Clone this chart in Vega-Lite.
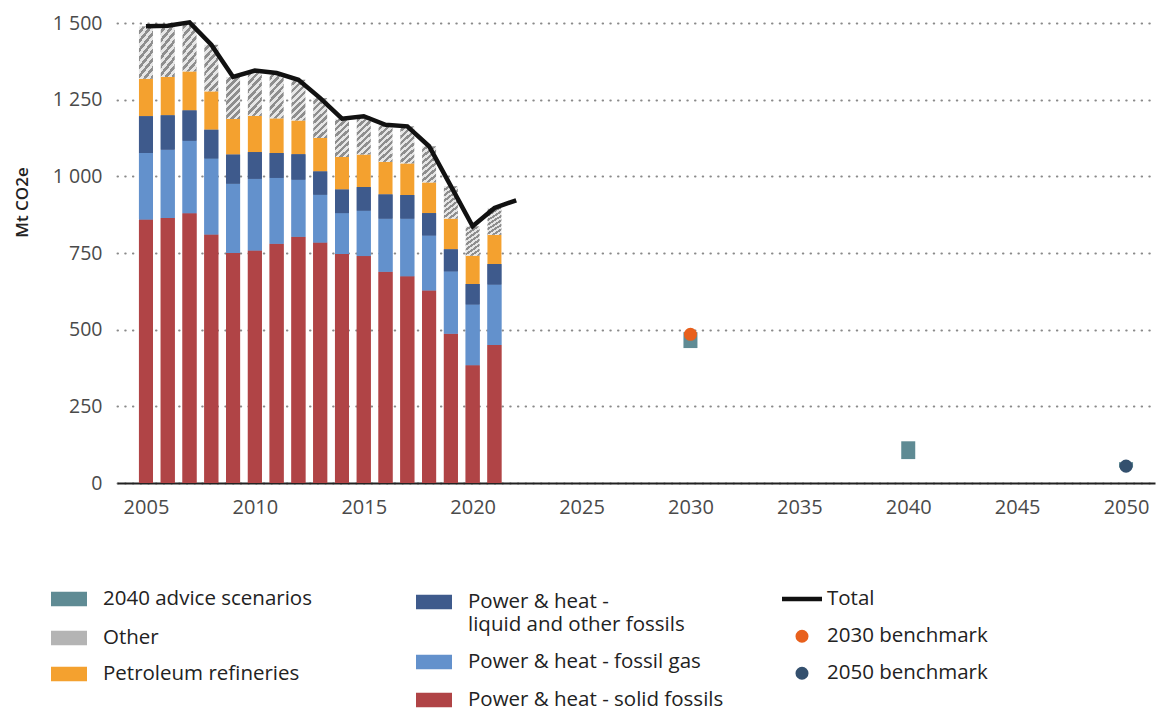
{
  "$schema": "https://vega.github.io/schema/vega-lite/v6.json",
  "width": 1038,
  "height": 460,
  "autosize": {"type": "none"},
  "padding": {"left": 117, "top": 23, "right": 3, "bottom": 228},
  "background": "white",
  "config": {
    "font": "Open Sans",
    "view": {"stroke": null},
    "axisY": {
      "labelExpr": "replace(format(datum.value, ','), ',', ' ')",
      "grid": true,
      "gridDash": [0.5, 7.2],
      "gridCap": "round",
      "gridWidth": 2,
      "gridColor": "#8a8a8a",
      "domain": false,
      "ticks": false,
      "labelPadding": 15,
      "labelFontSize": 19.5,
      "labelColor": "#4a4a4a",
      "titleFontSize": 17,
      "titleFontWeight": 600,
      "titleColor": "#222222",
      "titleX": -95,
      "titleY": 179,
      "titleAngle": -90,
      "titleAlign": "center",
      "titleBaseline": "middle"
    },
    "legend": {
      "orient": "none", "padding": 0, "title": null,
      "labelFontSize": 20.5, "labelColor": "#222222", "labelFont": "Open Sans", "labelLimit": 400
    }
  },
  "resolve": {"scale": {"fill": "independent"}, "legend": {"fill": "independent"}},
  "datasets": {
    "emissions": [
      {"year": 2005, "Power & heat - solid fossils": 859, "Power & heat - fossil gas": 217, "Power & heat - liquid and other fossils": 120, "Petroleum refineries": 122, "Other": 171},
      {"year": 2006, "Power & heat - solid fossils": 864, "Power & heat - fossil gas": 223, "Power & heat - liquid and other fossils": 112, "Petroleum refineries": 125, "Other": 167},
      {"year": 2007, "Power & heat - solid fossils": 880, "Power & heat - fossil gas": 236, "Power & heat - liquid and other fossils": 99, "Petroleum refineries": 127, "Other": 160},
      {"year": 2008, "Power & heat - solid fossils": 810, "Power & heat - fossil gas": 248, "Power & heat - liquid and other fossils": 94, "Petroleum refineries": 125, "Other": 152},
      {"year": 2009, "Power & heat - solid fossils": 750, "Power & heat - fossil gas": 226, "Power & heat - liquid and other fossils": 95, "Petroleum refineries": 116, "Other": 137},
      {"year": 2010, "Power & heat - solid fossils": 758, "Power & heat - fossil gas": 234, "Power & heat - liquid and other fossils": 87, "Petroleum refineries": 118, "Other": 148},
      {"year": 2011, "Power & heat - solid fossils": 780, "Power & heat - fossil gas": 215, "Power & heat - liquid and other fossils": 81, "Petroleum refineries": 113, "Other": 148},
      {"year": 2012, "Power & heat - solid fossils": 803, "Power & heat - fossil gas": 186, "Power & heat - liquid and other fossils": 83, "Petroleum refineries": 110, "Other": 133},
      {"year": 2013, "Power & heat - solid fossils": 784, "Power & heat - fossil gas": 156, "Power & heat - liquid and other fossils": 76, "Petroleum refineries": 109, "Other": 130},
      {"year": 2014, "Power & heat - solid fossils": 747, "Power & heat - fossil gas": 133, "Power & heat - liquid and other fossils": 77, "Petroleum refineries": 106, "Other": 125},
      {"year": 2015, "Power & heat - solid fossils": 740, "Power & heat - fossil gas": 148, "Power & heat - liquid and other fossils": 77, "Petroleum refineries": 106, "Other": 125},
      {"year": 2016, "Power & heat - solid fossils": 689, "Power & heat - fossil gas": 173, "Power & heat - liquid and other fossils": 79, "Petroleum refineries": 106, "Other": 121},
      {"year": 2017, "Power & heat - solid fossils": 674, "Power & heat - fossil gas": 188, "Power & heat - liquid and other fossils": 77, "Petroleum refineries": 103, "Other": 121},
      {"year": 2018, "Power & heat - solid fossils": 628, "Power & heat - fossil gas": 179, "Power & heat - liquid and other fossils": 73, "Petroleum refineries": 100, "Other": 118},
      {"year": 2019, "Power & heat - solid fossils": 487, "Power & heat - fossil gas": 203, "Power & heat - liquid and other fossils": 72, "Petroleum refineries": 100, "Other": 106},
      {"year": 2020, "Power & heat - solid fossils": 384, "Power & heat - fossil gas": 198, "Power & heat - liquid and other fossils": 67, "Petroleum refineries": 92, "Other": 96},
      {"year": 2021, "Power & heat - solid fossils": 450, "Power & heat - fossil gas": 197, "Power & heat - liquid and other fossils": 67, "Petroleum refineries": 95, "Other": 88}
    ],
    "stackorder": [
      {"series": "Power & heat - solid fossils", "rank": 1},
      {"series": "Power & heat - fossil gas", "rank": 2},
      {"series": "Power & heat - liquid and other fossils", "rank": 3},
      {"series": "Petroleum refineries", "rank": 4},
      {"series": "Other", "rank": 5}
    ],
    "total": [
      {"year": 2005, "total": 1489}, {"year": 2006, "total": 1491}, {"year": 2007, "total": 1502},
      {"year": 2008, "total": 1429}, {"year": 2009, "total": 1324}, {"year": 2010, "total": 1345},
      {"year": 2011, "total": 1337}, {"year": 2012, "total": 1315}, {"year": 2013, "total": 1255},
      {"year": 2014, "total": 1188}, {"year": 2015, "total": 1196}, {"year": 2016, "total": 1168},
      {"year": 2017, "total": 1163}, {"year": 2018, "total": 1098}, {"year": 2019, "total": 968},
      {"year": 2020, "total": 837}, {"year": 2021, "total": 897}, {"year": 2022, "total": 922}
    ],
    "scenarios": [
      {"year": 2030, "low": 440, "high": 492, "series": "2040 advice scenarios"},
      {"year": 2040, "low": 78, "high": 136, "series": "2040 advice scenarios"},
      {"year": 2050, "low": 50, "high": 68, "series": "2040 advice scenarios"}
    ],
    "benchmarks": [
      {"year": 2030, "value": 485, "series": "2030 benchmark"},
      {"year": 2050, "value": 55, "series": "2050 benchmark"}
    ]
  },
  "encoding": {
    "x": {
      "field": "year",
      "type": "quantitative",
      "scale": {"domain": [2003.9, 2051.1], "nice": false, "zero": false},
      "axis": {
        "values": [2005, 2010, 2015, 2020, 2025, 2030, 2035, 2040, 2045, 2050],
        "format": "d",
        "grid": false,
        "ticks": false,
        "domainColor": "#222222",
        "domainWidth": 2,
        "labelPadding": 14,
        "labelFontSize": 20,
        "labelColor": "#4a4a4a",
        "labelFlush": false,
        "title": null
      }
    }
  },
  "layer": [
    {
      "data": {"name": "emissions"},
      "transform": [
        {"fold": ["Power & heat - solid fossils", "Power & heat - fossil gas", "Power & heat - liquid and other fossils", "Petroleum refineries", "Other"], "as": ["series", "value"]},
        {"lookup": "series", "from": {"data": {"name": "stackorder"}, "key": "series", "fields": ["rank"]}}
      ],
      "mark": {"type": "bar", "width": 14},
      "encoding": {
        "y": {
          "field": "value",
          "type": "quantitative",
          "stack": "zero",
          "scale": {"domain": [0, 1500], "nice": false},
          "title": "Mt CO2e",
          "axis": {"values": [0, 250, 500, 750, 1000, 1250, 1500]}
        },
        "order": {"field": "rank", "type": "quantitative", "sort": "ascending"},
        "fill": {
          "field": "series",
          "type": "nominal",
          "condition": {
            "test": "datum.series === 'Other'",
            "value": {
              "gradient": "linear", "x1": 0, "y1": 0, "x2": 0.4, "y2": 1.2,
              "stops": [
                {"offset": 0, "color": "#e6e6e6"}, {"offset": 0.0625, "color": "#e6e6e6"}, {"offset": 0.0625, "color": "#8e8e8e"}, {"offset": 0.125, "color": "#8e8e8e"},
                {"offset": 0.125, "color": "#e6e6e6"}, {"offset": 0.1875, "color": "#e6e6e6"}, {"offset": 0.1875, "color": "#8e8e8e"}, {"offset": 0.25, "color": "#8e8e8e"},
                {"offset": 0.25, "color": "#e6e6e6"}, {"offset": 0.3125, "color": "#e6e6e6"}, {"offset": 0.3125, "color": "#8e8e8e"}, {"offset": 0.375, "color": "#8e8e8e"},
                {"offset": 0.375, "color": "#e6e6e6"}, {"offset": 0.4375, "color": "#e6e6e6"}, {"offset": 0.4375, "color": "#8e8e8e"}, {"offset": 0.5, "color": "#8e8e8e"},
                {"offset": 0.5, "color": "#e6e6e6"}, {"offset": 0.5625, "color": "#e6e6e6"}, {"offset": 0.5625, "color": "#8e8e8e"}, {"offset": 0.625, "color": "#8e8e8e"},
                {"offset": 0.625, "color": "#e6e6e6"}, {"offset": 0.6875, "color": "#e6e6e6"}, {"offset": 0.6875, "color": "#8e8e8e"}, {"offset": 0.75, "color": "#8e8e8e"},
                {"offset": 0.75, "color": "#e6e6e6"}, {"offset": 0.8125, "color": "#e6e6e6"}, {"offset": 0.8125, "color": "#8e8e8e"}, {"offset": 0.875, "color": "#8e8e8e"},
                {"offset": 0.875, "color": "#e6e6e6"}, {"offset": 0.9375, "color": "#e6e6e6"}, {"offset": 0.9375, "color": "#8e8e8e"}, {"offset": 1, "color": "#8e8e8e"}
              ]
            }
          },
          "scale": {
            "domain": ["Other", "Petroleum refineries", "Power & heat - liquid and other fossils", "Power & heat - fossil gas", "Power & heat - solid fossils"],
            "range": ["#b4b4b4", "#f4a12f", "#3e5a8c", "#6391cc", "#b04446"]
          },
          "legend": {
            "legendX": -66, "legendY": 597,
            "values": ["Other", "Petroleum refineries"],
            "symbolType": "M-1,-0.4H1V0.4H-1Z", "symbolSize": 1296, "symbolStrokeWidth": 0,
            "labelOffset": 16, "rowPadding": 7
          }
        }
      }
    },
    {
      "data": {"name": "emissions"},
      "transform": [
        {"fold": ["Power & heat - solid fossils", "Power & heat - fossil gas", "Power & heat - liquid and other fossils", "Petroleum refineries", "Other"], "as": ["series", "value"]},
        {"lookup": "series", "from": {"data": {"name": "stackorder"}, "key": "series", "fields": ["rank"]}},
        {"filter": "datum.rank <= 3"}
      ],
      "mark": {"type": "bar", "width": 14},
      "encoding": {
        "y": {
          "field": "value",
          "type": "quantitative",
          "stack": "zero",
          "title": "Mt CO2e",
          "axis": {"values": [0, 250, 500, 750, 1000, 1250, 1500]}
        },
        "order": {"field": "rank", "type": "quantitative", "sort": "ascending"},
        "fill": {
          "field": "series",
          "type": "nominal",
          "scale": {
            "domain": ["Power & heat - liquid and other fossils", "Power & heat - fossil gas", "Power & heat - solid fossils"],
            "range": ["#3e5a8c", "#6391cc", "#b04446"]
          },
          "legend": {
            "legendX": 299, "legendY": 561,
            "labelExpr": "datum.label === 'Power & heat - liquid and other fossils' ? ['Power & heat -', 'liquid and other fossils'] : datum.label",
            "symbolType": "M-1,-0.4H1V0.4H-1Z", "symbolSize": 1296, "symbolStrokeWidth": 0,
            "labelOffset": 16, "rowPadding": 9
          }
        }
      }
    },
    {
      "data": {"name": "scenarios"},
      "mark": {"type": "bar", "width": 14},
      "encoding": {
        "y": {"field": "low", "type": "quantitative", "title": "Mt CO2e", "axis": {"values": [0, 250, 500, 750, 1000, 1250, 1500]}},
        "y2": {"field": "high"},
        "fill": {
          "field": "series",
          "type": "nominal",
          "scale": {"domain": ["2040 advice scenarios"], "range": ["#5f8b94"]},
          "legend": {
            "legendX": -66, "legendY": 558,
            "symbolType": "M-1,-0.4H1V0.4H-1Z", "symbolSize": 1296, "symbolStrokeWidth": 0,
            "labelOffset": 16
          }
        }
      }
    },
    {
      "data": {"name": "total"},
      "mark": {"type": "line", "color": "#111111", "strokeWidth": 4.5},
      "encoding": {
        "y": {"field": "total", "type": "quantitative", "title": "Mt CO2e", "axis": {"values": [0, 250, 500, 750, 1000, 1250, 1500]}}
      }
    },
    {
      "data": {"name": "benchmarks"},
      "mark": {"type": "point", "filled": true, "opacity": 1, "strokeWidth": 0},
      "encoding": {
        "y": {"field": "value", "type": "quantitative", "title": "Mt CO2e", "axis": {"values": [0, 250, 500, 750, 1000, 1250, 1500]}},
        "color": {
          "field": "series",
          "type": "nominal",
          "scale": {"domain": ["Total", "2030 benchmark", "2050 benchmark"], "range": ["#111111", "#e8601c", "#34506e"]},
          "legend": {"legendX": 665, "legendY": 556, "labelOffset": 5, "rowPadding": 16, "symbolStrokeWidth": 0}
        },
        "shape": {
          "field": "series",
          "type": "nominal",
          "scale": {"domain": ["Total", "2030 benchmark", "2050 benchmark"], "range": ["M-1,-0.11H1V0.11H-1Z", "circle", "circle"]},
          "legend": {"legendX": 665, "legendY": 556, "labelOffset": 5, "rowPadding": 16, "symbolStrokeWidth": 0}
        },
        "size": {
          "field": "series",
          "type": "nominal",
          "scale": {"type": "ordinal", "domain": ["Total", "2030 benchmark", "2050 benchmark"], "range": [1600, 170, 170]},
          "legend": {"legendX": 665, "legendY": 556, "labelOffset": 5, "rowPadding": 16, "symbolStrokeWidth": 0}
        }
      }
    }
  ]
}
